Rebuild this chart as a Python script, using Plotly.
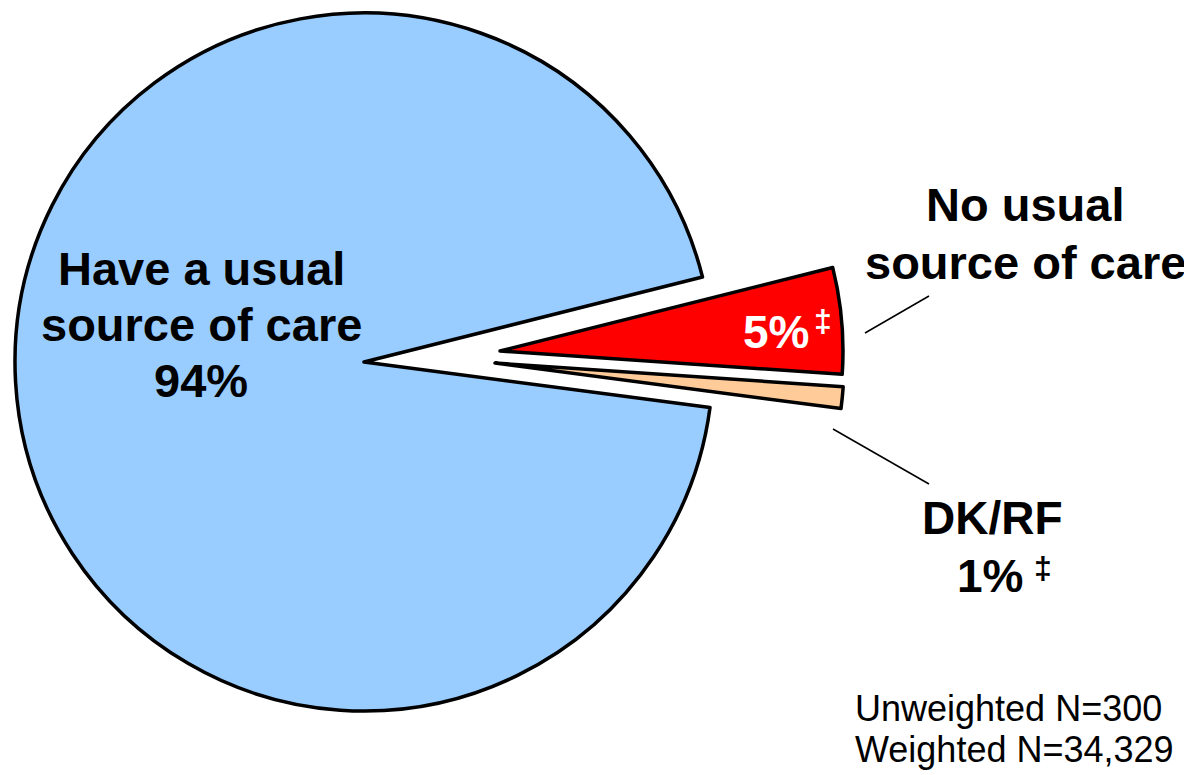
import plotly.graph_objects as go

W, H = 1192, 775
OFF = 8  # the html body adds an 8px margin around the figure

# slice data (clockwise, starting with the pulled-out red slice)
labels = ["No usual source of care", "DK/RF", "Have a usual source of care"]
values = [5, 1, 94]
colors = ["#FF0000", "#FFCC99", "#99CCFF"]

FONT = "Liberation Sans, Arial, sans-serif"
# centre and radius of each slice's pie (pixels) -- the two small ones are pulled out to the right
centers = [(500, 351), (495, 363), (364, 362)]
radii = [343, 349, 349]


def px(x):
    return (x - OFF) / W


def py(y):
    return 1 - (y - OFF) / H


def dom(cx, cy, r):
    return dict(x=[max(0, px(cx - r)), min(1, px(cx + r))],
                y=[max(0, py(cy + r)), min(1, py(cy - r))])


fig = go.Figure()
# one trace per slice so each one can be shifted on its own
for i in [2, 0, 1]:
    cx, cy = centers[i]
    fig.add_trace(go.Pie(
        labels=labels, values=values, sort=False, direction="clockwise",
        rotation=75.9, textinfo="none", hoverinfo="label+percent",
        showlegend=False, domain=dom(cx, cy, radii[i]),
        marker=dict(
            colors=[c if j == i else "rgba(0,0,0,0)" for j, c in enumerate(colors)],
            line=dict(color="black", width=[3.5 if j == i else 0 for j in range(3)]),
        ),
    ))


def note(text, x, y, size, color="black", bold=True, xanchor="center"):
    fig.add_annotation(
        text=f"<b>{text}</b>" if bold else text, x=px(x), y=py(y),
        xref="paper", yref="paper", xanchor=xanchor, yanchor="middle",
        showarrow=False, font=dict(family=FONT, size=size, color=color),
    )


note("Have a usual", 201, 268, 47)
note("source of care", 201, 324, 47)
note("94%", 201, 381, 47)

note("No usual", 1025, 205, 47)
note("source of care", 1025, 262, 47)

note("5%", 776, 332, 46, color="white")
note("‡", 823, 321, 32, color="white")

note("DK/RF", 992, 518, 46)
note("1%", 990, 576, 46)
note("‡", 1043, 568, 32)

note("Unweighted N=300", 853, 708, 36, bold=False, xanchor="left")
note("Weighted N=34,329", 853, 749, 36, bold=False, xanchor="left")

# leader lines
for (x0, y0, x1, y1) in [(865, 333, 929, 296), (833, 429, 929, 484)]:
    fig.add_shape(type="line", xref="paper", yref="paper",
                  x0=px(x0), y0=py(y0), x1=px(x1), y1=py(y1),
                  line=dict(color="black", width=1.5))

fig.update_layout(
    width=W, height=H,
    margin=dict(l=0, r=0, t=0, b=0, pad=0),
    paper_bgcolor="white", plot_bgcolor="white",
    font=dict(family=FONT),
)
fig.write_html("out.html")
